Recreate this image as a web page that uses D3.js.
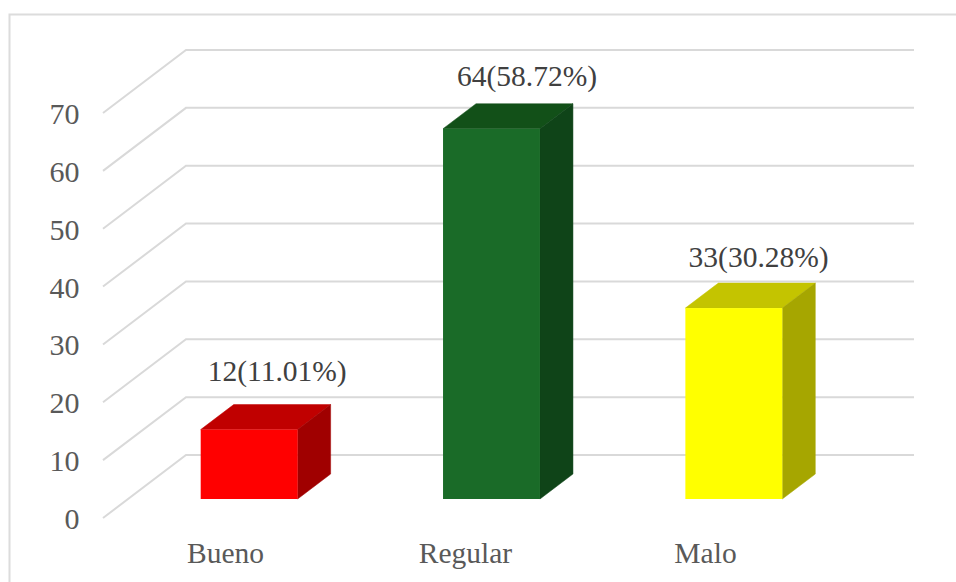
<!DOCTYPE html>
<html>
<head>
<meta charset="utf-8">
<style>
    html, body { margin: 0; padding: 0; background: #fff; overflow: hidden; }
    text { font-family: "Liberation Serif", serif; }
</style>
<script src="https://cdn.jsdelivr.net/npm/d3@7"></script>
</head>
<body>
<div id="chart"></div>
<script>
var categories = ['Bueno', 'Regular', 'Malo'];
var counts = [12, 64, 33];
var percents = ['11.01', '58.72', '30.28'];
var yTicks = [0, 10, 20, 30, 40, 50, 60, 70];

var barColors = [
    { front: '#ff0000', top: '#c00000', side: '#a00000' },
    { front: '#1a6b28', top: '#125018', side: '#0f4418' },
    { front: '#ffff00', top: '#c4c400', side: '#a6a600' }
];

(function() {
    'use strict';

    var width = 956, height = 582;

    // floor of the 3D box: front edge, and how far the back wall is shifted
    var depthX = 83, depthY = -63;
    var barDepthX = 33, barDepthY = -25;

    var svg = d3.select('#chart').append('svg')
        .attr('width', width)
        .attr('height', height);

    // Outer frame
    svg.append('path')
        .attr('d', 'M9.5,582V14.5H956')
        .attr('fill', 'none')
        .attr('stroke', '#dcdcdc')
        .attr('stroke-width', 2);

    var y = d3.scaleLinear().domain([0, 70]).range([518, 113]);
    var x = d3.scaleBand().domain(categories).range([103, 830]).paddingInner(0).paddingOuter(0);
    var barWidth = x.bandwidth() * 0.4;

    // Gridlines: front stub then along the back wall
    svg.append('g').selectAll('path')
        .data(yTicks)
        .join('path')
        .attr('fill', 'none')
        .attr('stroke', '#d9d9d9')
        .attr('stroke-width', 2)
        .attr('d', function(d) {
            return d3.line()([
                [103, y(d)],
                [103 + depthX, y(d) + depthY],
                [831 + depthX, y(d) + depthY]
            ]);
        });

    // Y labels
    svg.append('g').selectAll('text')
        .data(yTicks)
        .join('text')
        .attr('x', 79.5)
        .attr('y', function(d) { return y(d) + 11; })
        .attr('text-anchor', 'end')
        .attr('font-size', 30)
        .attr('fill', '#595959')
        .text(function(d) { return d; });

    // Category labels
    var xLabel = d3.scalePoint().domain(categories).range([225.5, 705.5]);
    svg.append('g').selectAll('text')
        .data(categories)
        .join('text')
        .attr('x', function(d) { return xLabel(d); })
        .attr('y', 563)
        .attr('text-anchor', 'middle')
        .attr('font-size', 29.5)
        .attr('fill', '#595959')
        .text(function(d) { return d; });

    // Bars sit a bit in from the front of the floor
    var insetX = 25, insetY = -19;

    var bars = svg.append('g').selectAll('g')
        .data(categories)
        .join('g');

    bars.each(function(c, i) {
        var g = d3.select(this);
        var x0 = x(c) + (x.bandwidth() - barWidth) / 2 + insetX;
        var x1 = x0 + barWidth;
        var yb = y(0) + insetY;
        var yt = y(counts[i]) + insetY;
        var col = barColors[i];

        g.append('path')
            .attr('fill', col.top)
            .attr('stroke', col.top)
            .attr('stroke-width', 0.5)
            .attr('d', d3.line()([[x0, yt], [x0 + barDepthX, yt + barDepthY], [x1 + barDepthX, yt + barDepthY], [x1, yt]]) + 'Z');
        g.append('path')
            .attr('fill', col.side)
            .attr('stroke', col.side)
            .attr('stroke-width', 0.5)
            .attr('d', d3.line()([[x1, yt], [x1 + barDepthX, yt + barDepthY], [x1 + barDepthX, yb + barDepthY], [x1, yb]]) + 'Z');
        g.append('rect')
            .attr('x', x0)
            .attr('y', yt)
            .attr('width', barWidth)
            .attr('height', yb - yt)
            .attr('fill', col.front);
    });

    // Data labels, hand placed above each bar like the original
    var labelShift = [[28, -49], [35.5, -43], [24.8, -41]];
    svg.append('g').selectAll('text')
        .data(categories)
        .join('text')
        .attr('x', function(c, i) { return x(c) + x.bandwidth() / 2 + insetX + labelShift[i][0]; })
        .attr('y', function(c, i) { return y(counts[i]) + insetY + labelShift[i][1]; })
        .attr('text-anchor', 'middle')
        .attr('font-size', 29.5)
        .attr('fill', '#404040')
        .text(function(c, i) { return counts[i] + '(' + percents[i] + '%)'; });
})();
</script>
</body>
</html>
